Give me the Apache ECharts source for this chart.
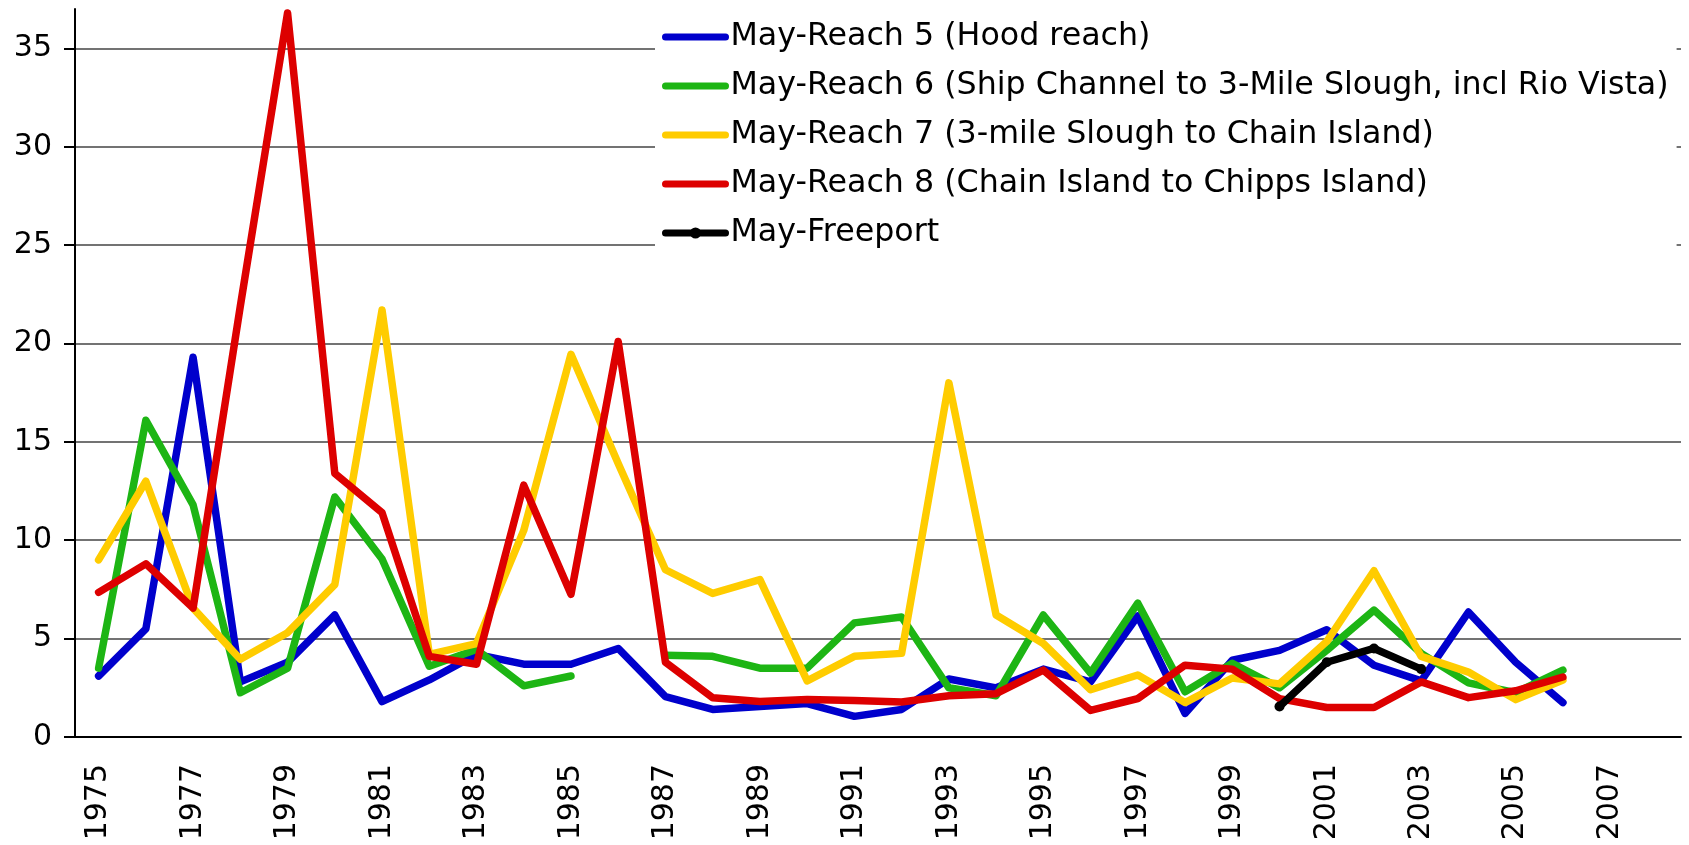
<!DOCTYPE html>
<html>
<head>
<meta charset="utf-8">
<script src="https://cdn.jsdelivr.net/npm/echarts@6/dist/echarts.min.js"></script>
<style>
  html, body { margin: 0; padding: 0; background: #fff; }
  #chart { width: 1689px; height: 845px; }
</style>
</head>
<body>
<div id="chart"></div>
<script>
// years on the category axis (2007-2008 are empty)
const years = ['1975','1976','1977','1978','1979','1980','1981','1982','1983','1984',
  '1985','1986','1987','1988','1989','1990','1991','1992','1993','1994',
  '1995','1996','1997','1998','1999','2000','2001','2002','2003','2004',
  '2005','2006','2007','2008'];

const reach5 = [3.1, 5.5, 19.3, 2.8, 3.8, 6.2, 1.8, 2.9, 4.2, 3.7,
  3.7, 4.5, 2.05, 1.4, 1.55, 1.7, 1.05, 1.4, 2.95, 2.5,
  3.45, 2.8, 6.15, 1.2, 3.9, 4.4, 5.45, 3.65, 2.85, 6.35,
  3.8, 1.75, null, null];

const reach6 = [3.5, 16.1, 11.8, 2.25, 3.5, 12.2, 9.05, 3.6, 4.45, 2.6,
  3.1, null, 4.15, 4.1, 3.5, 3.5, 5.8, 6.1, 2.5, 2.1,
  6.2, 3.25, 6.8, 2.3, 3.75, 2.5, 4.4, 6.45, 4.25, 2.75,
  2.25, 3.4, null, null];

const reach7 = [9.0, 13.0, 6.55, 3.95, 5.3, 7.75, 21.7, 4.2, 4.75, 10.5,
  19.45, 13.9, 8.5, 7.3, 8.0, 2.85, 4.1, 4.25, 18.0, 6.2,
  4.75, 2.4, 3.15, 1.75, 3.0, 2.7, 4.85, 8.45, 4.1, 3.3,
  1.9, 2.9, null, null];

const reach8 = [7.35, 8.8, 6.55, 21.9, 36.8, 13.4, 11.4, 4.1, 3.7, 12.8,
  7.25, 20.1, 3.8, 2.0, 1.8, 1.9, 1.85, 1.78, 2.1, 2.2,
  3.4, 1.35, 1.95, 3.65, 3.45, 1.95, 1.5, 1.5, 2.8, 2.0,
  2.35, 3.05, null, null];

const freeport = [null, null, null, null, null, null, null, null, null, null,
  null, null, null, null, null, null, null, null, null, null,
  null, null, null, null, null, 1.55, 3.8, 4.5, 3.45, null,
  null, null, null, null];

const seriesNames = [
  'May-Reach 5 (Hood reach)',
  'May-Reach 6 (Ship Channel to 3-Mile Slough, incl Rio Vista)',
  'May-Reach 7 (3-mile Slough to Chain Island)',
  'May-Reach 8 (Chain Island to Chipps Island)',
  'May-Freeport'
];
const seriesColors = ['#0000cc', '#1db514', '#ffcc00', '#dd0000', '#000000'];

const chart = echarts.init(document.getElementById('chart'));
const font = 'DejaVu Sans';

// helper for the plain thick lines
function reachLine(i, data) {
  return {
    name: seriesNames[i],
    type: 'line',
    data: data,
    symbol: 'none',
    connectNulls: false,
    color: seriesColors[i],
    lineStyle: { width: 7.5, color: seriesColors[i], cap: 'round', join: 'round' },
    emphasis: { disabled: true }
  };
}

// legend entries: the reaches show only the line, Freeport keeps its dot
const legendData = seriesNames.map(function(name, i) {
  if (i < 4) {
    return { name: name, itemStyle: { opacity: 0 } };
  }
  return { name: name };
});

chart.setOption({
  animation: false,
  textStyle: { fontFamily: font },
  grid: { left: 75, right: 8, top: 9, bottom: 108 },
  legend: {
    orient: 'vertical',
    left: 655,
    top: 11,
    padding: [8, 8, 14, 7],
    backgroundColor: '#ffffff',
    itemWidth: 60,
    itemHeight: 14,
    itemGap: 13,
    data: legendData,
    lineStyle: { width: 7, cap: 'round' },
    textStyle: { fontFamily: font, fontSize: 31.7, color: '#000', lineHeight: 36 }
  },
  xAxis: {
    type: 'category',
    data: years,
    boundaryGap: true,
    axisLine: { lineStyle: { color: '#000', width: 2 } },
    axisTick: { interval: 0, length: 11, lineStyle: { color: '#000', width: 2 } },
    axisLabel: { interval: 1, rotate: 90, margin: 27, fontSize: 30, color: '#000', fontFamily: font },
    splitLine: { show: false }
  },
  yAxis: {
    type: 'value',
    min: 0,
    max: 37,
    interval: 5,
    axisLine: { show: true, lineStyle: { color: '#000', width: 2 } },
    axisTick: { show: true, length: 11, lineStyle: { color: '#000', width: 2 } },
    axisLabel: { margin: 23, fontSize: 30, color: '#000', fontFamily: font, showMaxLabel: false },
    splitLine: { show: true, showMaxLine: false, lineStyle: { color: '#444', width: 1.5 } }
  },
  series: [
    reachLine(0, reach5),
    reachLine(1, reach6),
    reachLine(2, reach7),
    reachLine(3, reach8),
    {
      name: seriesNames[4],
      type: 'line',
      data: freeport,
      symbol: 'circle',
      symbolSize: 10,
      showSymbol: true,
      color: '#000',
      itemStyle: { color: '#000' },
      lineStyle: { width: 7.5, color: '#000', cap: 'round', join: 'round' },
      emphasis: { disabled: true }
    }
  ]
});

window.addEventListener('resize', function() {
  chart.resize();
});
</script>
</body>
</html>
